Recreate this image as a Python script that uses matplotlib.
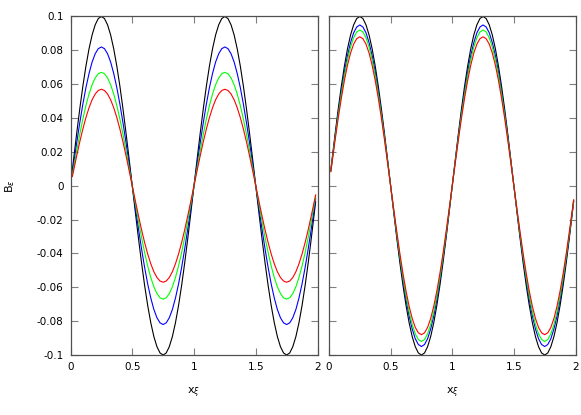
import matplotlib
matplotlib.use('Agg')
from matplotlib import pyplot as plt

# x positions of the sampled curves
xs = [0.015, 0.025, 0.05, 0.075, 0.1, 0.125, 0.15, 0.175, 0.2, 0.225,
      0.25, 0.275, 0.3, 0.325, 0.35, 0.375, 0.4, 0.425, 0.45, 0.475,
      0.5, 0.525, 0.55, 0.575, 0.6, 0.625, 0.65, 0.675, 0.7, 0.725,
      0.75, 0.775, 0.8, 0.825, 0.85, 0.875, 0.9, 0.925, 0.95, 0.975,
      1.0, 1.025, 1.05, 1.075, 1.1, 1.125, 1.15, 1.175, 1.2, 1.225,
      1.25, 1.275, 1.3, 1.325, 1.35, 1.375, 1.4, 1.425, 1.45, 1.475,
      1.5, 1.525, 1.55, 1.575, 1.6, 1.625, 1.65, 1.675, 1.7, 1.725,
      1.75, 1.775, 1.8, 1.825, 1.85, 1.875, 1.9, 1.925, 1.95, 1.975,
      1.985]

# left panel curves
left_black = [0.0094, 0.0156, 0.0309, 0.0454, 0.0588, 0.0707, 0.0809, 0.0891, 0.0951, 0.0988,
              0.1, 0.0988, 0.0951, 0.0891, 0.0809, 0.0707, 0.0588, 0.0454, 0.0309, 0.0156,
              0.0, -0.0156, -0.0309, -0.0454, -0.0588, -0.0707, -0.0809, -0.0891, -0.0951, -0.0988,
              -0.1, -0.0988, -0.0951, -0.0891, -0.0809, -0.0707, -0.0588, -0.0454, -0.0309, -0.0156,
              0.0, 0.0156, 0.0309, 0.0454, 0.0588, 0.0707, 0.0809, 0.0891, 0.0951, 0.0988,
              0.1, 0.0988, 0.0951, 0.0891, 0.0809, 0.0707, 0.0588, 0.0454, 0.0309, 0.0156,
              0.0, -0.0156, -0.0309, -0.0454, -0.0588, -0.0707, -0.0809, -0.0891, -0.0951, -0.0988,
              -0.1, -0.0988, -0.0951, -0.0891, -0.0809, -0.0707, -0.0588, -0.0454, -0.0309, -0.0156,
              -0.0094]
left_blue = [0.0077, 0.0128, 0.0253, 0.0372, 0.0482, 0.0580, 0.0663, 0.0731, 0.0780, 0.0810,
             0.082, 0.0810, 0.0780, 0.0731, 0.0663, 0.0580, 0.0482, 0.0372, 0.0253, 0.0128,
             0.0, -0.0128, -0.0253, -0.0372, -0.0482, -0.0580, -0.0663, -0.0731, -0.0780, -0.0810,
             -0.082, -0.0810, -0.0780, -0.0731, -0.0663, -0.0580, -0.0482, -0.0372, -0.0253, -0.0128,
             0.0, 0.0128, 0.0253, 0.0372, 0.0482, 0.0580, 0.0663, 0.0731, 0.0780, 0.0810,
             0.082, 0.0810, 0.0780, 0.0731, 0.0663, 0.0580, 0.0482, 0.0372, 0.0253, 0.0128,
             0.0, -0.0128, -0.0253, -0.0372, -0.0482, -0.0580, -0.0663, -0.0731, -0.0780, -0.0810,
             -0.082, -0.0810, -0.0780, -0.0731, -0.0663, -0.0580, -0.0482, -0.0372, -0.0253, -0.0128,
             -0.0077]
left_green = [0.0063, 0.0105, 0.0207, 0.0304, 0.0394, 0.0474, 0.0542, 0.0597, 0.0637, 0.0662,
              0.067, 0.0662, 0.0637, 0.0597, 0.0542, 0.0474, 0.0394, 0.0304, 0.0207, 0.0105,
              0.0, -0.0105, -0.0207, -0.0304, -0.0394, -0.0474, -0.0542, -0.0597, -0.0637, -0.0662,
              -0.067, -0.0662, -0.0637, -0.0597, -0.0542, -0.0474, -0.0394, -0.0304, -0.0207, -0.0105,
              0.0, 0.0105, 0.0207, 0.0304, 0.0394, 0.0474, 0.0542, 0.0597, 0.0637, 0.0662,
              0.067, 0.0662, 0.0637, 0.0597, 0.0542, 0.0474, 0.0394, 0.0304, 0.0207, 0.0105,
              0.0, -0.0105, -0.0207, -0.0304, -0.0394, -0.0474, -0.0542, -0.0597, -0.0637, -0.0662,
              -0.067, -0.0662, -0.0637, -0.0597, -0.0542, -0.0474, -0.0394, -0.0304, -0.0207, -0.0105,
              -0.0063]
left_red = [0.0054, 0.0089, 0.0176, 0.0259, 0.0335, 0.0403, 0.0461, 0.0508, 0.0542, 0.0563,
            0.057, 0.0563, 0.0542, 0.0508, 0.0461, 0.0403, 0.0335, 0.0259, 0.0176, 0.0089,
            0.0, -0.0089, -0.0176, -0.0259, -0.0335, -0.0403, -0.0461, -0.0508, -0.0542, -0.0563,
            -0.057, -0.0563, -0.0542, -0.0508, -0.0461, -0.0403, -0.0335, -0.0259, -0.0176, -0.0089,
            0.0, 0.0089, 0.0176, 0.0259, 0.0335, 0.0403, 0.0461, 0.0508, 0.0542, 0.0563,
            0.057, 0.0563, 0.0542, 0.0508, 0.0461, 0.0403, 0.0335, 0.0259, 0.0176, 0.0089,
            0.0, -0.0089, -0.0176, -0.0259, -0.0335, -0.0403, -0.0461, -0.0508, -0.0542, -0.0563,
            -0.057, -0.0563, -0.0542, -0.0508, -0.0461, -0.0403, -0.0335, -0.0259, -0.0176, -0.0089,
            -0.0054]

# right panel curves
right_black = left_black
right_blue = [0.0089, 0.0149, 0.0294, 0.0431, 0.0558, 0.0672, 0.0769, 0.0846, 0.0904, 0.0938,
              0.095, 0.0938, 0.0904, 0.0846, 0.0769, 0.0672, 0.0558, 0.0431, 0.0294, 0.0149,
              0.0, -0.0149, -0.0294, -0.0431, -0.0558, -0.0672, -0.0769, -0.0846, -0.0904, -0.0938,
              -0.095, -0.0938, -0.0904, -0.0846, -0.0769, -0.0672, -0.0558, -0.0431, -0.0294, -0.0149,
              0.0, 0.0149, 0.0294, 0.0431, 0.0558, 0.0672, 0.0769, 0.0846, 0.0904, 0.0938,
              0.095, 0.0938, 0.0904, 0.0846, 0.0769, 0.0672, 0.0558, 0.0431, 0.0294, 0.0149,
              0.0, -0.0149, -0.0294, -0.0431, -0.0558, -0.0672, -0.0769, -0.0846, -0.0904, -0.0938,
              -0.095, -0.0938, -0.0904, -0.0846, -0.0769, -0.0672, -0.0558, -0.0431, -0.0294, -0.0149,
              -0.0089]
right_green = [0.0086, 0.0144, 0.0284, 0.0418, 0.0541, 0.0651, 0.0744, 0.0820, 0.0875, 0.0909,
               0.092, 0.0909, 0.0875, 0.0820, 0.0744, 0.0651, 0.0541, 0.0418, 0.0284, 0.0144,
               0.0, -0.0144, -0.0284, -0.0418, -0.0541, -0.0651, -0.0744, -0.0820, -0.0875, -0.0909,
               -0.092, -0.0909, -0.0875, -0.0820, -0.0744, -0.0651, -0.0541, -0.0418, -0.0284, -0.0144,
               0.0, 0.0144, 0.0284, 0.0418, 0.0541, 0.0651, 0.0744, 0.0820, 0.0875, 0.0909,
               0.092, 0.0909, 0.0875, 0.0820, 0.0744, 0.0651, 0.0541, 0.0418, 0.0284, 0.0144,
               0.0, -0.0144, -0.0284, -0.0418, -0.0541, -0.0651, -0.0744, -0.0820, -0.0875, -0.0909,
               -0.092, -0.0909, -0.0875, -0.0820, -0.0744, -0.0651, -0.0541, -0.0418, -0.0284, -0.0144,
               -0.0086]
right_red = [0.0083, 0.0138, 0.0272, 0.0400, 0.0517, 0.0622, 0.0712, 0.0784, 0.0837, 0.0869,
             0.088, 0.0869, 0.0837, 0.0784, 0.0712, 0.0622, 0.0517, 0.0400, 0.0272, 0.0138,
             0.0, -0.0138, -0.0272, -0.0400, -0.0517, -0.0622, -0.0712, -0.0784, -0.0837, -0.0869,
             -0.088, -0.0869, -0.0837, -0.0784, -0.0712, -0.0622, -0.0517, -0.0400, -0.0272, -0.0138,
             0.0, 0.0138, 0.0272, 0.0400, 0.0517, 0.0622, 0.0712, 0.0784, 0.0837, 0.0869,
             0.088, 0.0869, 0.0837, 0.0784, 0.0712, 0.0622, 0.0517, 0.0400, 0.0272, 0.0138,
             0.0, -0.0138, -0.0272, -0.0400, -0.0517, -0.0622, -0.0712, -0.0784, -0.0837, -0.0869,
             -0.088, -0.0869, -0.0837, -0.0784, -0.0712, -0.0622, -0.0517, -0.0400, -0.0272, -0.0138,
             -0.0083]

xticks = [0, 0.5, 1, 1.5, 2]
xticklabels = ['0', '0.5', '1', '1.5', '2']
yticks = [-0.1, -0.08, -0.06, -0.04, -0.02, 0, 0.02, 0.04, 0.06, 0.08, 0.1]
yticklabels = ['-0.1', '-0.08', '-0.06', '-0.04', '-0.02', '0', '0.02', '0.04', '0.06', '0.08', '0.1']

colors = ['black', '#0000ff', '#00ff00', '#ff0000']

plt.rcParams['font.family'] = ['DejaVu Sans']
fig = plt.figure(figsize=(5.81, 4.15), dpi=100)
ax1 = fig.add_axes([70.5 / 581, 1 - 355 / 415, 247 / 581, 338.5 / 415])
ax2 = fig.add_axes([329 / 581, 1 - 355 / 415, 246.5 / 581, 338.5 / 415])

for ax, curves in [(ax1, [left_black, left_blue, left_green, left_red]),
                   (ax2, [right_black, right_blue, right_green, right_red])]:
    for ys, c in zip(curves, colors):
        ax.plot(xs, ys, color=c, lw=0.8)
    ax.set_xlim(0, 2)
    ax.set_ylim(-0.1, 0.1)
    ax.set_xticks(xticks)
    ax.set_xticklabels(xticklabels)
    ax.set_yticks(yticks)
    ax.tick_params(direction='in', length=5, width=0.8, color='#808080',
                   top=True, right=True, labelsize=7.5, pad=5)
    for s in ax.spines.values():
        s.set_color('#505050')
        s.set_linewidth(0.9)
    ax.set_xlabel('x$_\\xi$', fontsize=8, labelpad=10)

ax1.set_yticklabels(yticklabels)
ax2.set_yticklabels([])
ax1.set_ylabel('B$_\\epsilon$', fontsize=8, labelpad=14)

fig.savefig('out.png', dpi=100)
